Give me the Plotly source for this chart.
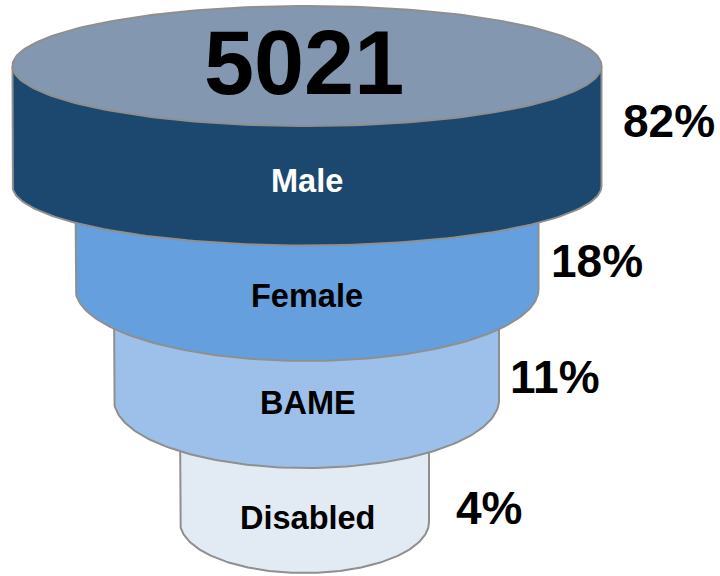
import numpy as np
import plotly.graph_objects as go

# Data
total = 5021
categories = ["Male", "Female", "BAME", "Disabled"]
percentages = [82, 18, 11, 4]

# Funnel tiers, drawn in pixel space (bottom tier first so upper ones overlap it)
center_xs = [307, 307, 306.5, 304.5]
half_widths = [294.5, 231.5, 192.5, 124.5]
side_tops = [66, 200, 300, 420]
side_bottoms = [186, 289, 400, 522]
curve_heights = [59.5, 72, 68, 51]
tier_colors = ["#1C4870", "#659FDD", "#9DC0EA", "#E2EAF4"]
label_colors = ["#FFFFFF", "#000000", "#000000", "#000000"]
label_x = [307, 307, 307.5, 307]
label_y = [181, 296, 402.5, 518]
pct_x = [669, 596.5, 554.5, 489]
pct_y = [121, 261, 377, 508]

top_half_height = 60
top_color = "#8497B0"
edge_color = "#8F8F8F"
font_name = "Liberation Sans"

fig = go.Figure()

# Tiers
for i in reversed(range(len(categories))):
    t = np.linspace(np.pi, 0, 121)
    xs = center_xs[i] + half_widths[i] * np.cos(t)
    ys = side_bottoms[i] + curve_heights[i] * np.sin(t)
    xs = np.concatenate([[center_xs[i] - half_widths[i]], xs, [center_xs[i] + half_widths[i]]])
    ys = np.concatenate([[side_tops[i]], ys, [side_tops[i]]])
    fig.add_trace(go.Scatter(
        x=xs, y=ys,
        mode="lines",
        fill="toself",
        fillcolor=tier_colors[i],
        line=dict(color=edge_color, width=2),
        name=categories[i],
        hoverinfo="name",
    ))

# Top ellipse
t = np.linspace(0, 2 * np.pi, 241)
fig.add_trace(go.Scatter(
    x=center_xs[0] + half_widths[0] * np.cos(t),
    y=side_tops[0] + top_half_height * np.sin(t),
    mode="lines",
    fill="toself",
    fillcolor=top_color,
    line=dict(color=edge_color, width=2),
    name=str(total),
    hoverinfo="name",
))

# Text
fig.add_annotation(x=304, y=63, text="<b>" + str(total) + "</b>", showarrow=False,
                   font=dict(family=font_name, size=90, color="#000000"))
for i in range(len(categories)):
    fig.add_annotation(x=label_x[i], y=label_y[i], text="<b>" + categories[i] + "</b>", showarrow=False,
                       font=dict(family=font_name, size=32.5, color=label_colors[i]))
    fig.add_annotation(x=pct_x[i], y=pct_y[i], text="<b>" + str(percentages[i]) + "%</b>", showarrow=False,
                       font=dict(family=font_name, size=46, color="#000000"))

fig.update_layout(
    width=720, height=576,
    margin=dict(l=0, r=0, t=0, b=0),
    paper_bgcolor="white",
    plot_bgcolor="white",
    showlegend=False,
    xaxis=dict(range=[0, 720], visible=False, fixedrange=True),
    yaxis=dict(range=[576, 0], visible=False, fixedrange=True),
)

# page margin would push the figure 8px off
fig.write_html("out.html", config=dict(displayModeBar=False),
               post_script="document.body.style.margin='0';document.body.style.overflow='hidden';")
